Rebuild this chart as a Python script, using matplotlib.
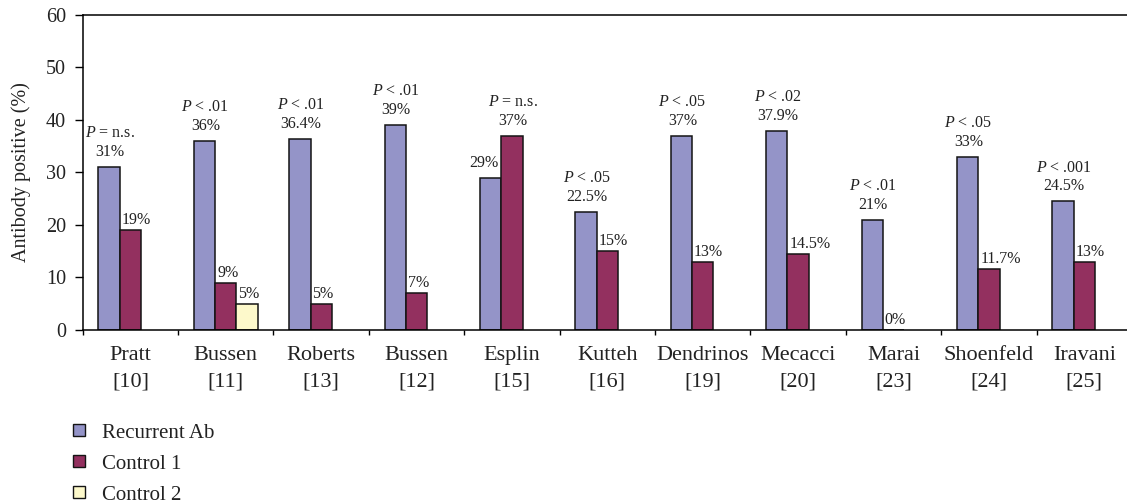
import numpy as np
import matplotlib
matplotlib.use("Agg")
import matplotlib.pyplot as plt
from matplotlib.lines import Line2D

plt.rcParams["font.family"] = ["Liberation Serif", "DejaVu Serif"]
plt.rcParams["mathtext.fontset"] = "custom"
plt.rcParams["mathtext.rm"] = "Liberation Serif"
plt.rcParams["mathtext.it"] = "Liberation Serif:italic"

# Studies (first author and reference number)
authors = ["Pratt", "Bussen", "Roberts", "Bussen", "Esplin", "Kutteh",
           "Dendrinos", "Mecacci", "Marai", "Shoenfeld", "Iravani"]
refs = ["10", "11", "13", "12", "15", "16", "19", "20", "23", "24", "25"]

# Antibody positive rates (%)
recurrent_ab = [31, 36, 36.4, 39, 29, 22.5, 37, 37.9, 21, 33, 24.5]
control_1 = [19, 9, 5, 7, 37, 15, 13, 14.5, 0, 11.7, 13]
control_2 = [np.nan, 5, np.nan, np.nan, np.nan, np.nan, np.nan, np.nan,
             np.nan, np.nan, np.nan]

# Significance text and which series (0 = Recurrent Ab, 1 = Control 1) carries it
p_text = ["= n.s.", "< .01", "< .01", "< .01", "= n.s.", "< .05",
          "< .05", "< .02", "< .01", "< .05", "< .001"]
p_series = [0, 0, 0, 0, 1, 0, 0, 0, 0, 0, 0]

series_names = ["Recurrent Ab", "Control 1", "Control 2"]
series_colors = ["#9494c8", "#93305f", "#fdf9cb"]
series_values = [recurrent_ab, control_1, control_2]

W, H = 1127, 504
fig = plt.figure(figsize=(W / 100, H / 100), dpi=100)
x_left, x_right, y_bottom, y_top = 82.7, 1132.0, 330.0, 14.7
ax = fig.add_axes([x_left / W, 1 - y_bottom / H,
                   (x_right - x_left) / W, (y_bottom - y_top) / H])

n = len(authors)
x = np.arange(n)
bw = 0.2235

for k, (vals, col) in enumerate(zip(series_values, series_colors)):
    ax.bar(x + (k - 1) * bw, vals, bw, color=col, edgecolor="#141414",
           linewidth=1.1, zorder=2)

ax.set_xlim(-0.5, n - 0.5)
ax.set_ylim(0, 60)

# Value labels (with P value on the series that carries it)
for i in range(n):
    for k, vals in enumerate(series_values):
        v = vals[i]
        if np.isnan(v):
            continue
        xc = x[i] + (k - 1) * bw
        label = f"{v:g}%"
        has_p = p_series[i] == k
        if has_p:
            label = f"$P$ {p_text[i]}\n" + label
        if has_p or (k == 0 and p_series[i] == 0):
            xy, ha, off = (xc, v), "center", (1, 7)
        elif k == 0:
            xy, ha, off = (xc + bw / 2, v), "right", (-3, 7)
        else:
            xy, ha, off = (xc - bw / 2, v), "left", (2, 2)
        ax.annotate(label, xy=xy, xytext=off, textcoords="offset pixels",
                    ha=ha, va="bottom", fontsize=11.5, linespacing=1.22,
                    color="#222222", zorder=3)

# Axes styling
for side in ["top", "bottom", "left"]:
    ax.spines[side].set_linewidth(1.1)
ax.spines["right"].set_visible(False)

ax.set_yticks(range(0, 61, 10))
ax.tick_params(axis="y", length=6, width=1.0, pad=6, labelsize=14.5,
               labelcolor="#222222")

ax.set_xticks(np.arange(n + 1) - 0.5)
ax.set_xticklabels([])
ax.tick_params(axis="x", which="major", length=3.6, width=1.0)
ax.set_xticks(x, labels=[f"{a}\n[{r}]" for a, r in zip(authors, refs)],
              minor=True)
ax.tick_params(axis="x", which="minor", length=0, pad=11.5, labelsize=16,
               labelcolor="#222222")
for t in ax.get_xticklabels(minor=True):
    t.set_linespacing(1.55)

ax.set_ylabel("Antibody positive (%)", fontsize=14.5, color="#222222")
ax.yaxis.set_label_coords(-(x_left - 31) / (x_right - x_left), 0.5)

handles = [Line2D([], [], linestyle="none", marker="s", markersize=8,
                  markerfacecolor=c, markeredgecolor="#141414",
                  markeredgewidth=1.0) for c in series_colors]
fig.legend(handles, series_names, loc="upper left",
           bbox_to_anchor=(73.0 / W, 1 - 423.0 / H), frameon=False,
           fontsize=15, handlelength=0.6, handletextpad=0.77,
           labelspacing=0.55, borderpad=0, borderaxespad=0,
           labelcolor="#222222")

fig.savefig("out.png", dpi=100)
